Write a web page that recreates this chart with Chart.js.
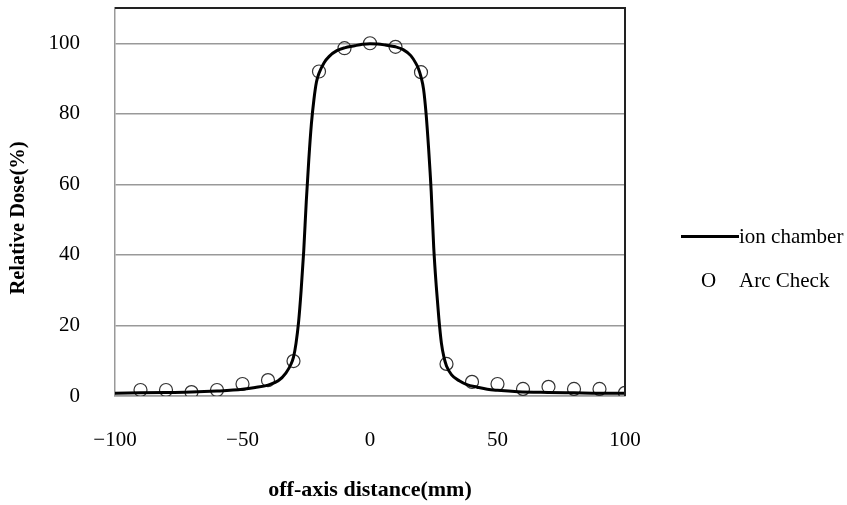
<!DOCTYPE html>
<html>
<head>
<meta charset="utf-8">
<script src="https://cdn.jsdelivr.net/npm/chart.js@4"></script>
<style>
  body { margin: 0; background: #fff; }
  #wrap { position: relative; width: 847px; height: 505px; }
  .leg { position: absolute; font-family: "Liberation Serif", "Times New Roman", serif; font-size: 21px; line-height: 24px; color: #000; white-space: nowrap; }
  #legLine { position: absolute; left: 681px; top: 235px; width: 58px; height: 3px; background: #000; }
</style>
</head>
<body>
<div id="wrap">
  <canvas id="chart" width="847" height="505"></canvas>
  <div id="legLine"></div>
  <div class="leg" style="left:739px; top:224px;">ion chamber</div>
  <div class="leg" style="left:701px; top:268px;">O</div>
  <div class="leg" style="left:739px; top:268px;">Arc Check</div>
</div>
<script>
// ion chamber profile (mm, %)
const offAxisMM = [-100, -90, -80, -70, -60, -50, -45, -40, -36, -33, -31, -30, -29, -28, -27, -26, -25, -24, -23, -22, -21, -20, -18, -16, -13, -10, -6, -3, 0,
                   3, 6, 10, 13, 16, 18, 19, 20, 21, 22, 23, 24, 25, 26, 27, 28, 29, 30, 32, 35, 38, 42, 46, 50, 58, 70, 80, 90, 100];
const ionChamber = [0.8, 0.9, 1.0, 1.1, 1.4, 1.9, 2.4, 3.1, 4.3, 6.5, 9, 11, 15, 21, 30, 41, 55, 67, 77, 84, 89, 91.5, 94.5, 96.3, 97.9, 98.7, 99.3, 99.7, 99.9,
                    99.8, 99.5, 99, 98.2, 96.5, 94.3, 92.8, 90.5, 87, 80, 70, 58, 42, 31, 22, 15, 11, 8.5, 6, 4.3, 3.2, 2.5, 1.9, 1.6, 1.2, 1.0, 0.9, 0.8, 0.8];

// Arc Check detector points
const arcCheckMM = [-90, -80, -70, -60, -50, -40, -30, -20, -10, 0, 10, 20, 30, 40, 50, 60, 70, 80, 90, 100];
const arcCheck = [1.7, 1.7, 1.1, 1.7, 3.4, 4.5, 9.9, 92, 98.6, 100, 99, 91.8, 9.1, 4, 3.4, 2, 2.6, 2, 2, 0.9];

const yTicks = [0, 20, 40, 60, 80, 100];
const xTicks = [-100, -50, 0, 50, 100];

const serif = "'Liberation Serif', 'Times New Roman', serif";

// top and right frame of the plot box, plus the y title (sits a bit low in the original)
const frame = {
    id: 'frame',
    afterDraw(chart) {
        const { ctx, chartArea: a } = chart;
        ctx.save();
        ctx.strokeStyle = '#222';
        ctx.lineWidth = 2;
        ctx.beginPath();
        ctx.moveTo(a.left, a.top);
        ctx.lineTo(a.right, a.top);
        ctx.lineTo(a.right, a.bottom);
        ctx.stroke();

        ctx.translate(19, 218);
        ctx.rotate(-Math.PI / 2);
        ctx.fillStyle = '#000';
        ctx.font = "bold 20.5px " + serif;
        ctx.textAlign = 'center';
        ctx.textBaseline = 'middle';
        ctx.fillText('Relative Dose(%)', 0, 0);
        ctx.restore();
    }
};

new Chart(document.getElementById('chart'), {
    type: 'scatter',
    data: {
        datasets: [
            {
                label: 'ion chamber',
                data: offAxisMM.map((x, i) => ({ x, y: ionChamber[i] })),
                showLine: true,
                borderColor: '#000',
                borderWidth: 3,
                pointRadius: 0,
                cubicInterpolationMode: 'monotone',
                order: 1
            },
            {
                label: 'Arc Check',
                data: arcCheckMM.map((x, i) => ({ x, y: arcCheck[i] })),
                showLine: false,
                pointStyle: 'circle',
                pointRadius: 6.5,
                pointBorderWidth: 1.2,
                pointBorderColor: '#333',
                pointBackgroundColor: 'rgba(0,0,0,0)',
                order: 2
            }
        ]
    },
    options: {
        responsive: false,
        animation: false,
        layout: { padding: { left: 0, right: 222, top: 8, bottom: 0 } },
        plugins: { legend: { display: false }, tooltip: { enabled: false } },
        scales: {
            x: {
                type: 'linear',
                min: -100,
                max: 100,
                afterFit: s => { s.height = 109; },
                afterBuildTicks: s => { s.ticks = xTicks.map(v => ({ value: v })); },
                grid: { display: false },
                border: { display: true, color: '#999', width: 1.5 },
                ticks: {
                    padding: 24,
                    color: '#000',
                    font: { family: serif, size: 21 },
                    callback: v => (v < 0 ? '\u2212' + Math.abs(v) : String(v))
                },
                title: {
                    display: true,
                    text: 'off-axis distance(mm)',
                    color: '#000',
                    font: { family: serif, size: 22, weight: 'bold' },
                    padding: { top: 0, bottom: 1 }
                }
            },
            y: {
                min: 0,
                max: 110,
                afterFit: s => { s.width = 115; s.paddingTop = 0; s.paddingBottom = 0; },
                afterBuildTicks: s => { s.ticks = yTicks.map(v => ({ value: v })); },
                grid: { color: '#999', lineWidth: 1.5, drawTicks: false },
                border: { display: true, color: '#999', width: 1.5 },
                ticks: {
                    padding: 35,
                    color: '#000',
                    font: { family: serif, size: 21 }
                },
                title: { display: false }
            }
        }
    },
    plugins: [frame]
});
</script>
</body>
</html>
